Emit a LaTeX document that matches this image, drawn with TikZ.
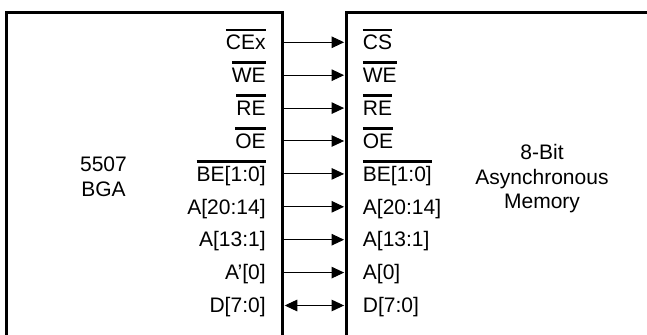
\documentclass[tikz,border=0pt]{standalone}
\usepackage{fontspec}
\setmainfont{Liberation Sans}
\usetikzlibrary{arrows.meta, positioning}

% active-low signal: bar over the whole name
\newcommand{\negsig}[1]{\setbox0\hbox{#1}\rlap{\rule[9.2pt]{\wd0}{1.3pt}}\box0}

\begin{document}
\begin{tikzpicture}[x=0.5pt, y=-0.5pt, font=\fontsize{10.5}{12.25}\selectfont,
	box/.style={line width=1.25pt},
	lbl/.style={inner sep=0pt, text height=7.3pt, text depth=0pt},
	sig/.style={line width=0.5pt, -{Triangle[length=6.3pt,width=5.8pt]}, shorten >=0.8pt},
	bus/.style={sig, {Triangle[length=6.3pt,width=5.8pt]}-{Triangle[length=6.3pt,width=5.8pt]}, shorten <=0.8pt}]
	\useasboundingbox (0,0) rectangle (647,335);

	% the two chips
	\draw[box] (6.5,345) -- (6.5,12.3) -- (282.5,12.3) -- (282.5,345);
	\draw[box] (346.3,345) -- (346.3,12.3) -- (660,12.3);
	\coordinate (dspR) at (283.1,0);
	\coordinate (memL) at (345.7,0);

	\node[align=center] (dsp) at (103.5,177) {5507\\BGA};
	\node[align=center] (mem) at (542,179) {8-Bit\\Asynchronous\\Memory};

	% 5507 pins
	\node[lbl, anchor=east] (cex) at (266,42.3) {\negsig{CEx}};
	\node[lbl, anchor=east] (wel) at (266,75.2) {\negsig{WE}};
	\node[lbl, anchor=east] (rel) at (266,108.1) {\negsig{RE}};
	\node[lbl, anchor=east] (oel) at (266,141) {\negsig{OE}};
	\node[lbl, anchor=east] (bel) at (266,173.9) {\negsig{BE[1:0]}};
	\node[lbl, anchor=east] (ahl) at (266,206.8) {A[20:14]};
	\node[lbl, anchor=east] (all) at (266,239.7) {A[13:1]};
	\node[lbl, anchor=east] (a0l) at (266,272.6) {A'[0]};
	\node[lbl, anchor=east] (dl) at (266,305.5) {D[7:0]};

	% memory pins
	\node[lbl, anchor=west] (cs) at (362.5,42.3) {\negsig{CS}};
	\node[lbl, anchor=west] (wer) at (362.5,75.2) {\negsig{WE}};
	\node[lbl, anchor=west] (rer) at (362.5,108.1) {\negsig{RE}};
	\node[lbl, anchor=west] (oer) at (362.5,141) {\negsig{OE}};
	\node[lbl, anchor=west] (ber) at (362.5,173.9) {\negsig{BE[1:0]}};
	\node[lbl, anchor=west] (ahr) at (362.5,206.8) {A[20:14]};
	\node[lbl, anchor=west] (alr) at (362.5,239.7) {A[13:1]};
	\node[lbl, anchor=west] (a0r) at (362.5,272.6) {A[0]};
	\node[lbl, anchor=west] (dr) at (362.5,305.5) {D[7:0]};

	\draw[sig] (cex -| dspR) -- (cs -| memL);
	\draw[sig] (wel -| dspR) -- (wer -| memL);
	\draw[sig] (rel -| dspR) -- (rer -| memL);
	\draw[sig] (oel -| dspR) -- (oer -| memL);
	\draw[sig] (bel -| dspR) -- (ber -| memL);
	\draw[sig] (ahl -| dspR) -- (ahr -| memL);
	\draw[sig] (all -| dspR) -- (alr -| memL);
	\draw[sig] (a0l -| dspR) -- (a0r -| memL);
	\draw[bus] (dl -| dspR) -- (dr -| memL);
\end{tikzpicture}
\end{document}
